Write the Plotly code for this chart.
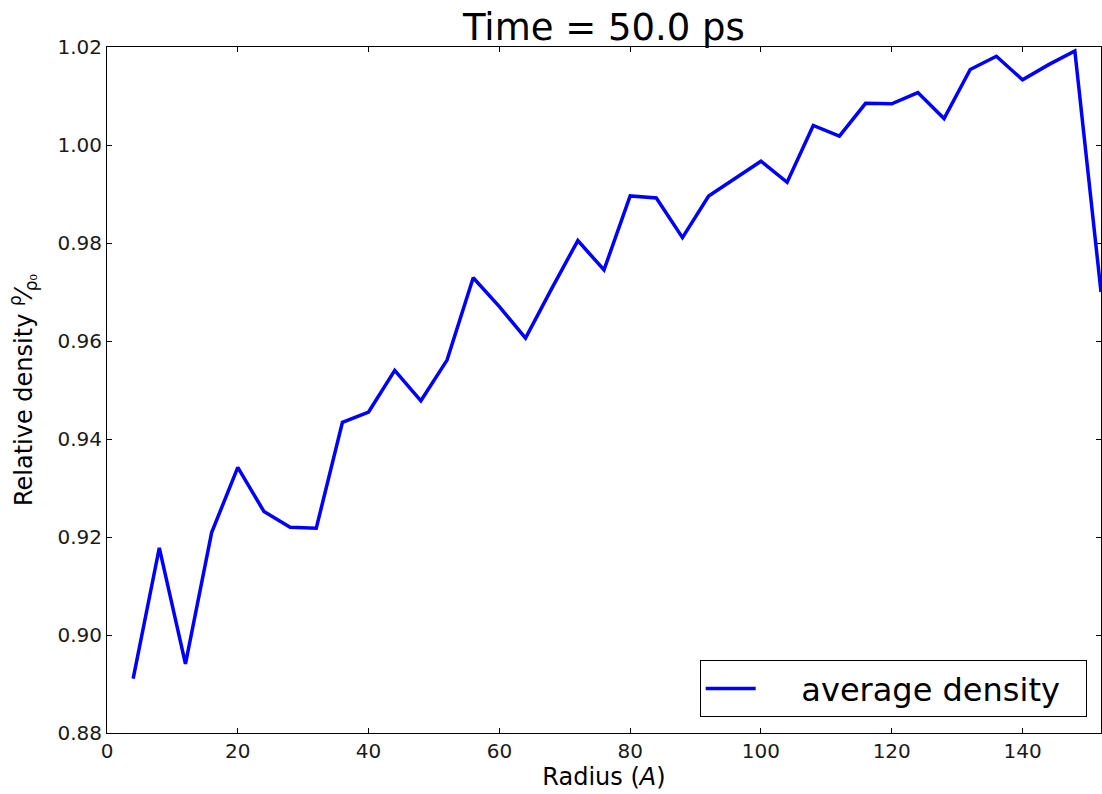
import plotly.graph_objects as go

# Radial bins (Å) and averaged density relative to the bulk value
radius = [4, 8, 12, 16, 20, 24, 28, 32, 36, 40, 44, 48, 52, 56, 60, 64, 68, 72, 76,
          80, 84, 88, 92, 96, 100, 104, 108, 112, 116, 120, 124, 128, 132, 136, 140,
          144, 148, 152]
density = [0.8911, 0.9178, 0.8941, 0.9209, 0.9342, 0.9252, 0.9220, 0.9218, 0.9434,
           0.9455, 0.9540, 0.9478, 0.9561, 0.9729, 0.9670, 0.9606, 0.9707, 0.9805,
           0.9745, 0.9896, 0.9892, 0.9811, 0.9896, 0.9932, 0.9967, 0.9924, 1.0040,
           1.0018, 1.0085, 1.0084, 1.0107, 1.0054, 1.0154, 1.0181, 1.0133, 1.0164,
           1.0192, 0.9700]

x_ticks = [0, 20, 40, 60, 80, 100, 120, 140]
y_ticks = [0.88, 0.90, 0.92, 0.94, 0.96, 0.98, 1.00, 1.02]

FONT = "DejaVu Sans"
NBSP = "\u00a0"

fig = go.Figure()
fig.add_trace(go.Scatter(
    x=radius, y=density, mode="lines",
    name=NBSP * 4 + "average density" + NBSP * 2,
    line=dict(color="#0000ff", width=3.5),
))

axis_common = dict(
    showline=True, linecolor="black", linewidth=1, mirror="allticks",
    ticks="inside", ticklen=5, tickwidth=1, tickcolor="black",
    showgrid=False, zeroline=False,
    tickfont=dict(family=FONT, size=20, color="#1a1a1a"),
)

fig.update_layout(
    width=1102, height=794,
    margin=dict(l=107, r=1, t=47, b=61),
    paper_bgcolor="white", plot_bgcolor="white",
    font=dict(family=FONT, color="black"),
    title=dict(
        text="Time = 50.0 ps", x=0.548, xanchor="center",
        yref="container", y=1 - 27 / 794, yanchor="middle",
        font=dict(family=FONT, size=37, color="black"),
    ),
    xaxis=dict(
        range=[0, 152], tickvals=x_ticks, ticktext=[str(v) for v in x_ticks],
        title=dict(text="Radius (<i>A</i>)", font=dict(family=FONT, size=24),
                   standoff=6),
        **axis_common,
    ),
    yaxis=dict(
        range=[0.88, 1.02], tickvals=y_ticks, ticktext=[f"{v:.2f}" for v in y_ticks],
        title=dict(text="Relative density <sup>ρ</sup>⁄<sub>ρ₀</sub>",
                   font=dict(family=FONT, size=24), standoff=18),
        **axis_common,
    ),
    showlegend=True,
    legend=dict(
        x=0.9856, y=0.023, xanchor="right", yanchor="bottom",
        bordercolor="black", borderwidth=1, bgcolor="white",
        font=dict(family=FONT, size=32, color="black"),
        itemwidth=50,
    ),
)

fig.write_html("out.html")
